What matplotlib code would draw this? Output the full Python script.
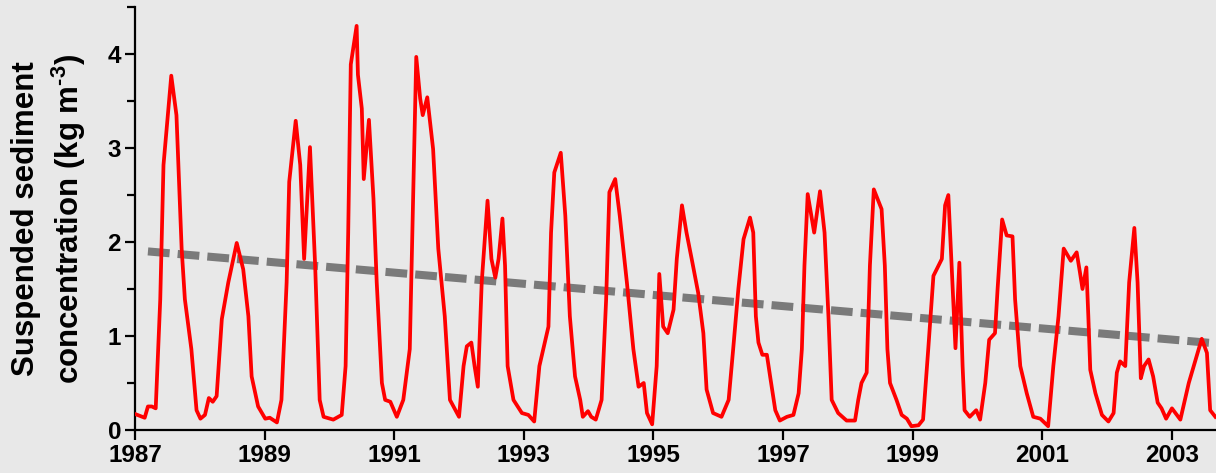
import numpy as np
import matplotlib.pyplot as plt
from matplotlib.ticker import MultipleLocator

plt.rcParams['font.family'] = 'Liberation Sans'
plt.rcParams['font.weight'] = 'bold'
plt.rcParams['mathtext.fontset'] = 'custom'
plt.rcParams['mathtext.rm'] = 'Liberation Sans:bold'
plt.rcParams['mathtext.bf'] = 'Liberation Sans:bold'
plt.rcParams['mathtext.default'] = 'bf'

# suspended sediment concentration (kg m-3), decimal year
years = [
    1987.00, 1987.15, 1987.20, 1987.26, 1987.32, 1987.39, 1987.44, 1987.56, 1987.64, 1987.72,
    1987.77, 1987.87, 1987.95, 1988.01, 1988.08, 1988.14, 1988.20, 1988.26, 1988.34, 1988.44,
    1988.57, 1988.67, 1988.75, 1988.80, 1988.90, 1989.01, 1989.08, 1989.19, 1989.26, 1989.34,
    1989.38, 1989.48, 1989.55, 1989.61, 1989.70, 1989.78, 1989.85, 1989.91, 1990.06, 1990.19,
    1990.25, 1990.29, 1990.33, 1990.42, 1990.44, 1990.50, 1990.53, 1990.61, 1990.68, 1990.73,
    1990.81, 1990.86, 1990.94, 1991.04, 1991.14, 1991.24, 1991.28, 1991.34, 1991.40, 1991.44,
    1991.51, 1991.60, 1991.68, 1991.78, 1991.86, 1992.00, 1992.07, 1992.12, 1992.19, 1992.24,
    1992.29, 1992.35, 1992.44, 1992.50, 1992.56, 1992.61, 1992.67, 1992.71, 1992.75, 1992.84,
    1992.97, 1993.07, 1993.16, 1993.24, 1993.30, 1993.38, 1993.42, 1993.47, 1993.57, 1993.64,
    1993.71, 1993.79, 1993.87, 1993.91, 1993.99, 1994.04, 1994.11, 1994.20, 1994.27, 1994.32,
    1994.41, 1994.48, 1994.59, 1994.69, 1994.77, 1994.85, 1994.90, 1994.98, 1995.05, 1995.09,
    1995.15, 1995.22, 1995.31, 1995.36, 1995.44, 1995.51, 1995.59, 1995.69, 1995.77, 1995.82,
    1995.92, 1996.05, 1996.16, 1996.23, 1996.31, 1996.39, 1996.49, 1996.54, 1996.58, 1996.62,
    1996.68, 1996.75, 1996.80, 1996.88, 1996.95, 1997.06, 1997.16, 1997.24, 1997.29, 1997.33,
    1997.38, 1997.48, 1997.57, 1997.64, 1997.70, 1997.75, 1997.85, 1997.98, 1998.11, 1998.16,
    1998.21, 1998.29, 1998.34, 1998.40, 1998.52, 1998.57, 1998.61, 1998.65, 1998.75, 1998.83,
    1998.91, 1998.98, 1999.09, 1999.16, 1999.24, 1999.32, 1999.37, 1999.45, 1999.50, 1999.55,
    1999.60, 1999.66, 1999.72, 1999.77, 1999.80, 1999.88, 1999.98, 2000.04, 2000.12, 2000.18,
    2000.27, 2000.31, 2000.38, 2000.45, 2000.54, 2000.58, 2000.66, 2000.76, 2000.86, 2000.97,
    2001.09, 2001.17, 2001.25, 2001.33, 2001.44, 2001.53, 2001.58, 2001.62, 2001.68, 2001.71,
    2001.74, 2001.82, 2001.92, 2002.02, 2002.10, 2002.15, 2002.20, 2002.28, 2002.34, 2002.42,
    2002.47, 2002.52, 2002.57, 2002.64, 2002.71, 2002.78, 2002.84, 2002.91, 2003.00, 2003.13,
    2003.26, 2003.46, 2003.54, 2003.59, 2003.67,
]
ssc = [
    0.17, 0.13, 0.25, 0.25, 0.23, 1.39, 2.82, 3.77, 3.35, 1.93,
    1.39, 0.86, 0.21, 0.12, 0.16, 0.34, 0.30, 0.36, 1.18, 1.57,
    1.99, 1.71, 1.21, 0.57, 0.25, 0.12, 0.13, 0.08, 0.32, 1.57,
    2.64, 3.29, 2.82, 1.82, 3.01, 1.75, 0.32, 0.14, 0.11, 0.16,
    0.68, 2.10, 3.89, 4.30, 3.78, 3.42, 2.67, 3.30, 2.46, 1.57,
    0.50, 0.32, 0.30, 0.14, 0.32, 0.86, 2.10, 3.97, 3.53, 3.35,
    3.54, 2.99, 1.93, 1.21, 0.32, 0.14, 0.68, 0.89, 0.93, 0.68,
    0.46, 1.57, 2.44, 1.82, 1.62, 1.82, 2.25, 1.75, 0.68, 0.32,
    0.18, 0.16, 0.09, 0.68, 0.86, 1.10, 2.10, 2.74, 2.95, 2.28,
    1.21, 0.57, 0.32, 0.14, 0.20, 0.14, 0.11, 0.32, 1.39, 2.53,
    2.67, 2.28, 1.57, 0.86, 0.46, 0.50, 0.18, 0.06, 0.68, 1.66,
    1.10, 1.03, 1.28, 1.82, 2.39, 2.10, 1.82, 1.46, 1.03, 0.43,
    0.18, 0.14, 0.32, 0.86, 1.50, 2.03, 2.26, 2.10, 1.21, 0.93,
    0.80, 0.80, 0.57, 0.21, 0.10, 0.14, 0.16, 0.39, 0.86, 1.75,
    2.51, 2.10, 2.54, 2.10, 1.21, 0.32, 0.18, 0.10, 0.10, 0.32,
    0.50, 0.61, 1.75, 2.56, 2.35, 1.75, 0.86, 0.50, 0.32, 0.16,
    0.12, 0.04, 0.05, 0.11, 0.86, 1.64, 1.71, 1.82, 2.39, 2.50,
    1.75, 0.87, 1.78, 0.68, 0.21, 0.14, 0.21, 0.11, 0.50, 0.96,
    1.03, 1.50, 2.24, 2.07, 2.06, 1.39, 0.68, 0.39, 0.14, 0.12,
    0.04, 0.68, 1.21, 1.93, 1.80, 1.89, 1.68, 1.50, 1.73, 1.21,
    0.64, 0.39, 0.16, 0.09, 0.18, 0.61, 0.73, 0.68, 1.57, 2.15,
    1.57, 0.55, 0.68, 0.75, 0.57, 0.29, 0.23, 0.12, 0.23, 0.11,
    0.50, 0.97, 0.82, 0.21, 0.14,
]

# linear trend end points
trend_years = [1987.2, 2003.7]
trend_ssc = [1.90, 0.92]

bg = '#e8e8e8'
fig = plt.figure(figsize=(12.16, 4.73), dpi=100, facecolor=bg)
ax = fig.add_axes([0.111, 0.091, 0.889, 0.894], facecolor=bg)

ax.plot(years, ssc, color='#ff0000', lw=2.7, solid_joinstyle='round', zorder=3)
ax.plot(trend_years, trend_ssc, color='#7a7a7a', lw=5.8, dashes=(2.7, 1.0),
        dash_capstyle='butt', zorder=2)

ax.set_xlim(1987, 2003.68)
ax.set_ylim(0, 4.5)
ax.set_xticks(np.arange(1987, 2004, 2))
ax.yaxis.set_major_locator(MultipleLocator(1))
ax.yaxis.set_minor_locator(MultipleLocator(0.5))

for side in ['top', 'right']:
    ax.spines[side].set_visible(False)
for side in ['left', 'bottom']:
    ax.spines[side].set_linewidth(1.6)

ax.tick_params(axis='both', which='major', direction='out', length=7, width=1.6,
               labelsize=17.5, pad=3)
ax.tick_params(axis='y', which='minor', direction='out', length=6, width=1.6)

ax.set_ylabel('Suspended sediment\nconcentration (kg m$^{\\text{-}3}$)',
              fontsize=22.5, fontweight='bold', linespacing=1.3)
ax.yaxis.set_label_coords(-0.043, 0.5)

fig.savefig('out.png', dpi=100, facecolor=bg)
